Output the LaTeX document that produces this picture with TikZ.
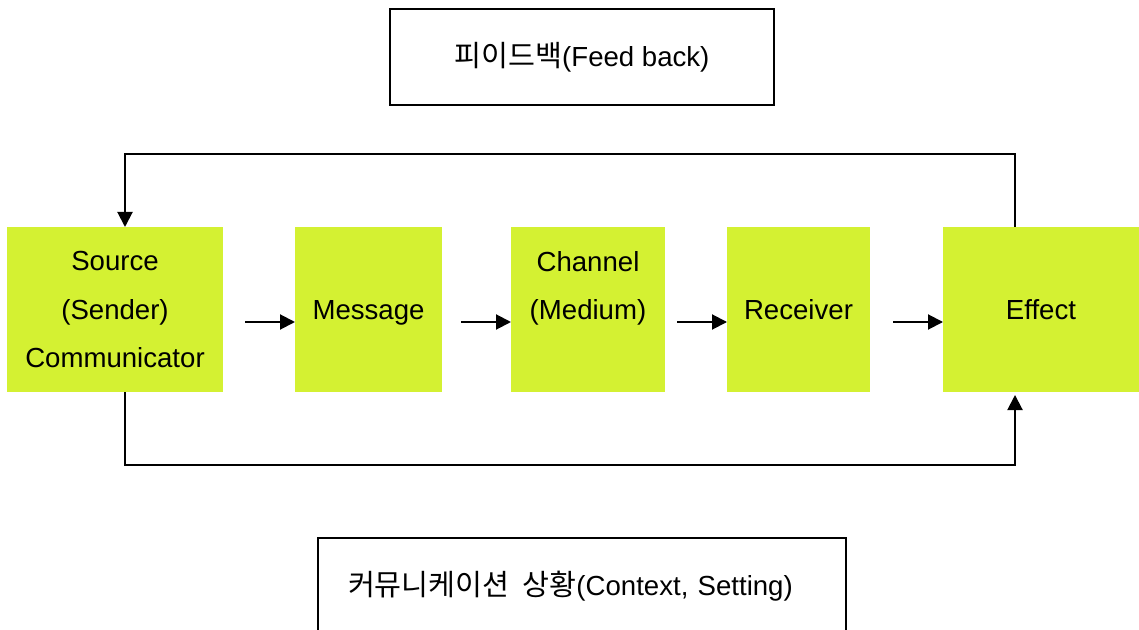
\documentclass[tikz,border=0pt]{standalone}
\usepackage{fontspec}
\setmainfont{Liberation Sans}
\newfontfamily\kr[Scale=1.06]{Noto Sans CJK KR}
\usetikzlibrary{arrows.meta, positioning}
\definecolor{lime}{RGB}{212,241,50}

\begin{document}
\begin{tikzpicture}[
    x=0.5pt, y=-0.5pt,
    font=\fontsize{13.8pt}{24pt}\selectfont,
    block/.style={fill=lime, minimum height=82.5pt, outer sep=0pt, inner sep=0pt, align=center},
    frame/.style={draw, line width=1pt, minimum height=48pt, outer sep=0pt},
    arrow/.style={-{Triangle[length=7.5pt, width=7.5pt]}, line width=1pt},
    node distance=36pt
]
    \clip (0,0) rectangle (1139,630);

    \node[frame, minimum width=192pt] (fb) at (582,57.5) {{\kr 피이드백}(Feed back)};

    \node[block, minimum width=108pt] (src) at (115,309.5) {Source\\(Sender)\\Communicator};
    \node[block, minimum width=73.5pt, right=36pt of src] (msg) {\strut Message};
    \node[block, minimum width=77pt, right=34.5pt of msg] (chn) {Channel\\(Medium)\\\mbox{}};
    \node[block, minimum width=71.5pt, right=31pt of chn] (rcv) {\strut Receiver};
    \node[block, minimum width=98pt, right=36.5pt of rcv] (eff) {\strut Effect};

    \node[frame, text width=234pt, inner xsep=15pt, align=left] (ctx) at (582,586)
        {{\kr 커뮤니케이션\hspace{0.45em}상황}(Context, Setting)};

    % forward chain
    \draw[arrow, shorten <=11pt] ([yshift=-6.25pt]src.east) -- ([yshift=-6.25pt]msg.west);
    \draw[arrow, shorten <=9.5pt] ([yshift=-6.25pt]msg.east) -- ([yshift=-6.25pt]chn.west);
    \draw[arrow, shorten <=6pt] ([yshift=-6.25pt]chn.east) -- ([yshift=-6.25pt]rcv.west);
    \draw[arrow, shorten <=11.5pt] ([yshift=-6.25pt]rcv.east) -- ([yshift=-6.25pt]eff.west);

    % loops
    \draw[arrow] ([xshift=-13pt]eff.north) -- ++(0pt,36.5pt) -| ([xshift=5pt]src.north);
    \draw[arrow, shorten >=1.5pt] ([xshift=5pt]src.south) -- ++(0pt,-36.5pt) -| ([xshift=-13pt]eff.south);
\end{tikzpicture}
\end{document}
